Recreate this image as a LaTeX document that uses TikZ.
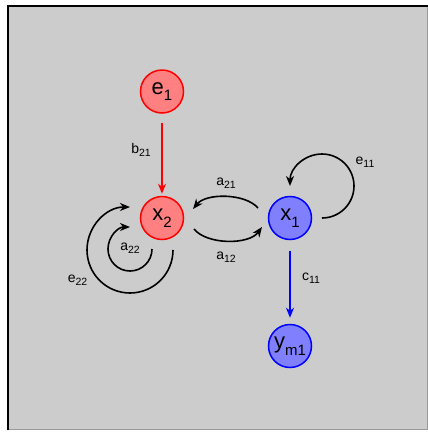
\documentclass[tikz,border=0pt]{standalone}
\usepackage{fontspec}
\setmainfont{Liberation Sans}
\usetikzlibrary{arrows.meta,calc}
\definecolor{bggray}{HTML}{CCCCCC}
\definecolor{lred}{HTML}{FF8080}
\definecolor{lblue}{HTML}{8080FF}
\newcommand\nlab[2]{{\fontsize{22}{22}\selectfont #1\raisebox{-0.3em}{\fontsize{15}{15}\selectfont #2}}}
\newcommand\elab[2]{{\fontsize{14}{14}\selectfont #1\raisebox{-0.25em}{\fontsize{10.5}{10.5}\selectfont #2}}}
\tikzset{
  var/.style={circle, minimum size=43pt, inner sep=0pt, line width=1.5pt},
  rednode/.style={var, draw=red, fill=lred},
  bluenode/.style={var, draw=blue, fill=lblue},
  conn/.style={line width=1.6pt, -{Stealth[length=10pt,width=8pt,inset=3pt]}},
  elbl/.style={inner sep=0pt, text=black}
}
\begin{document}
\begin{tikzpicture}[x=1pt,y=-1pt]
\useasboundingbox (0,0) rectangle (428,432);
\fill[bggray] (8,6) rectangle (427,429);
\draw[gray!80, line width=1pt] (8,429) -- (427,429) -- (427,6);
\draw[black, line width=2pt] (8,430) -- (8,6) -- (428,6);
\node[rednode] (e1) at (162,91.5) {\nlab{e}{1}};
\node[rednode] (x2) at (162,218) {\nlab{x}{2}};
\node[bluenode] (x1) at (290,218) {\nlab{x}{1}};
\node[bluenode] (ym1) at (290,346) {\nlab{y}{m1}};
\draw[conn, red, shorten <=9pt, shorten >=2pt] (e1) -- (x2);
\draw[conn, blue, shorten <=11pt, shorten >=6pt] (x1) -- (ym1);
\draw[conn] ($(x1)+(-32,-10)$) .. controls ($(x1)+(-45,-25)$) and ($(x2)+(44,-25)$) .. ($(x2)+(31,-9)$);
\draw[conn] ($(x2)+(32,11)$) .. controls ($(x2)+(45,27)$) and ($(x1)+(-41,27)$) .. ($(x1)+(-28,9)$);
\draw[conn] ($(x1)+(32,0)$) arc[start angle=-90, end angle=180, radius=32pt];
\draw[conn] ($(x2)+(-10,31)$) arc[start angle=0, end angle=-270, radius=22pt];
\draw[conn] ($(x2)+(11,32)$) arc[start angle=0, end angle=-270, radius=43pt];
\node[elbl] (lb21) at (141,150) {\elab{b}{21}};
\node[elbl] (lc11) at (311,278) {\elab{c}{11}};
\node[elbl] (la21) at (226,183) {\elab{a}{21}};
\node[elbl] (la12) at (226,257) {\elab{a}{12}};
\node[elbl] (le11) at (365,162) {\elab{e}{11}};
\node[elbl] (la22) at (130,248) {\elab{a}{22}};
\node[elbl] (le22) at (77.5,280) {\elab{e}{22}};
\end{tikzpicture}
\end{document}
